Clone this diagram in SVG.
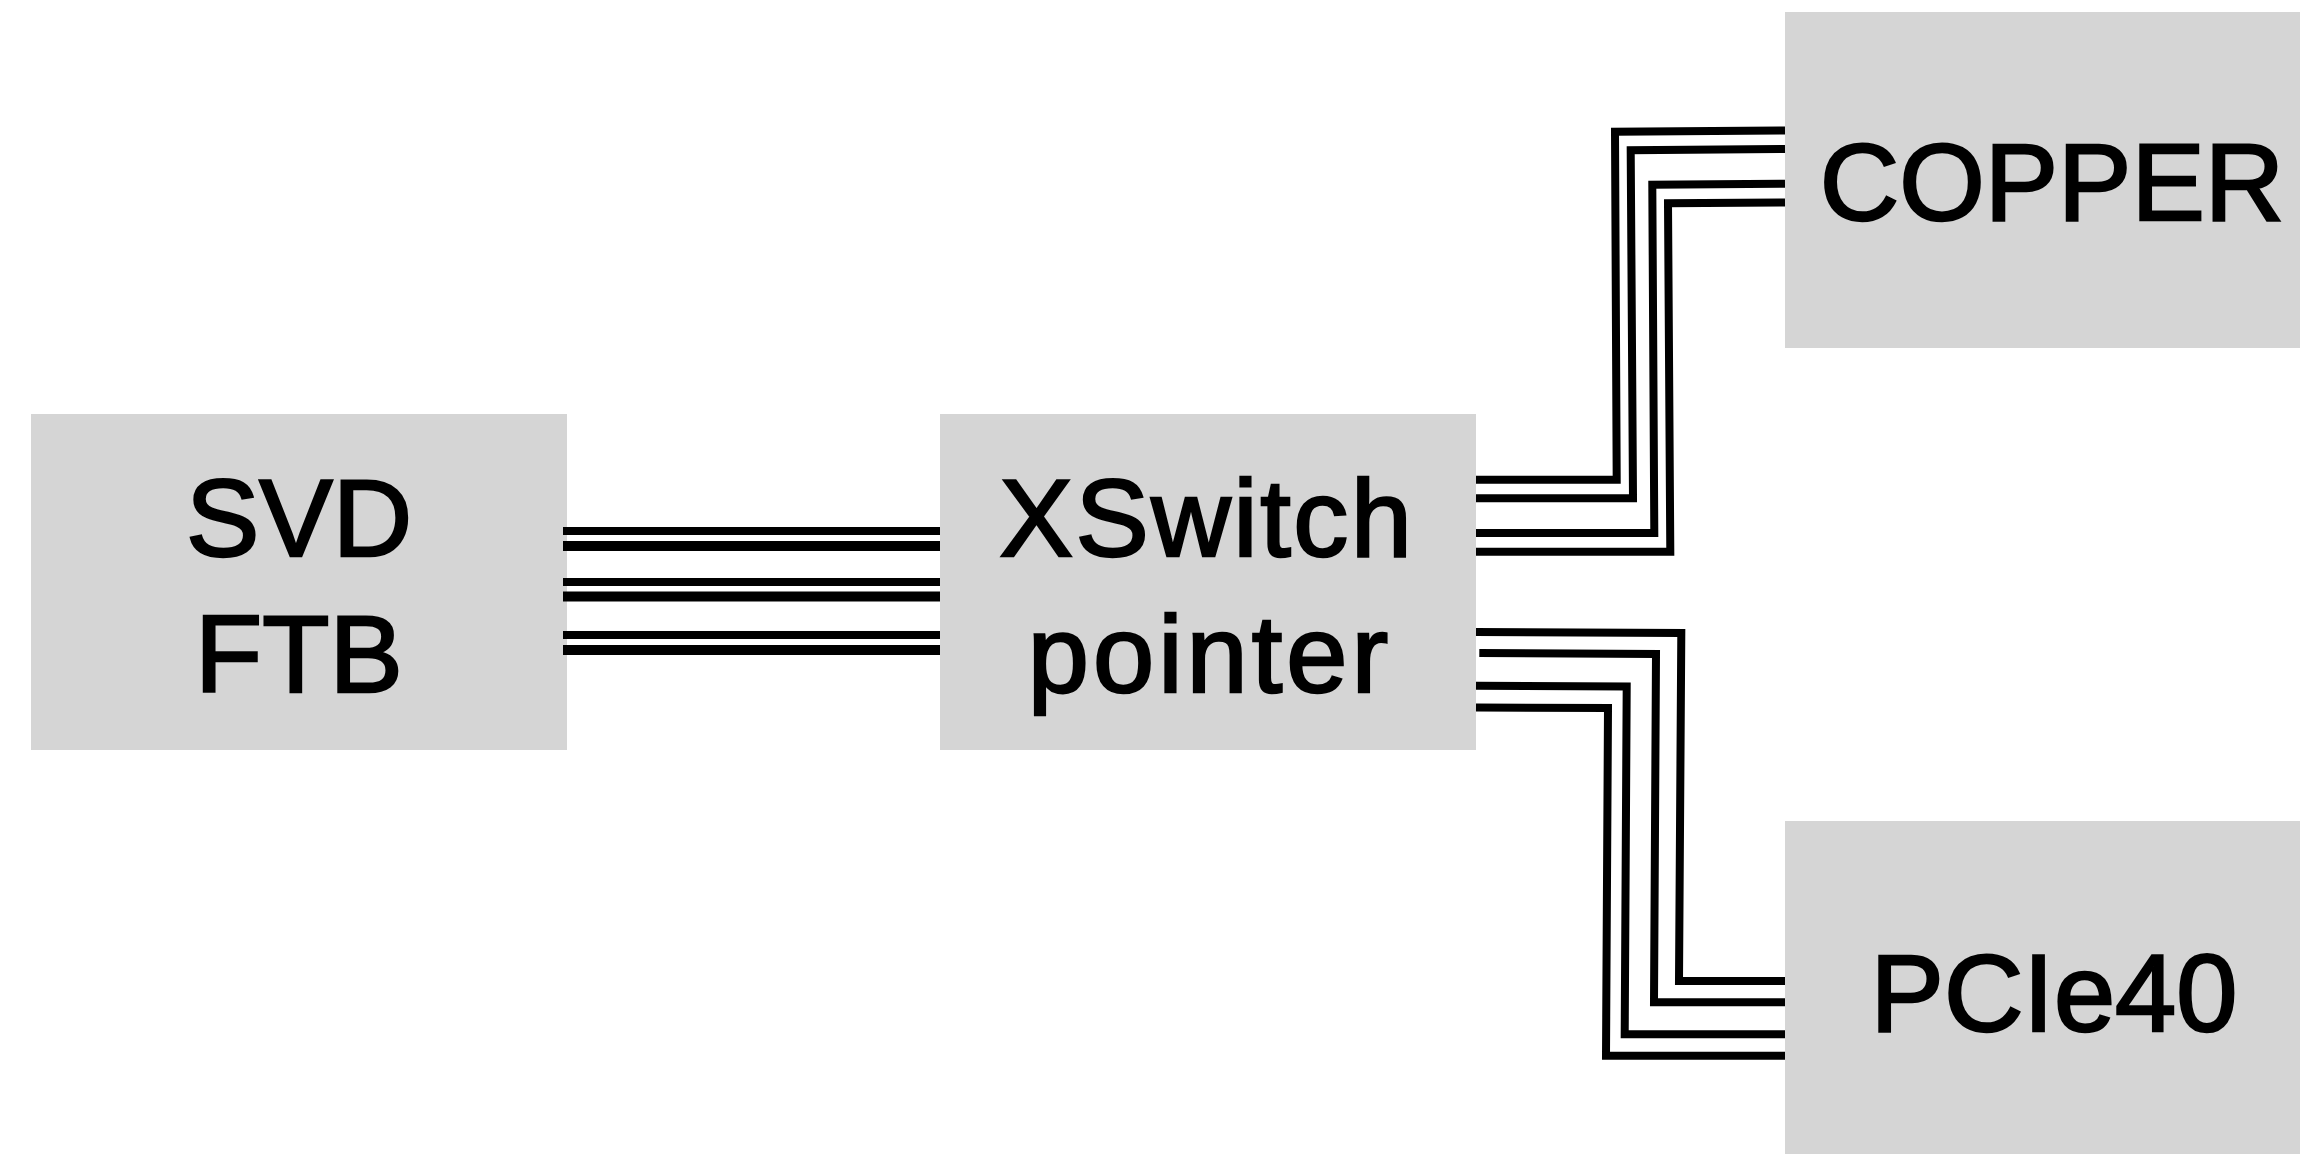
<svg xmlns="http://www.w3.org/2000/svg" width="2300" height="1154" viewBox="0 0 2300 1154">
<style>
.box{fill:#d5d5d5}
.lbl{font-family:"Liberation Sans",Arial,Helvetica,sans-serif;font-size:110px;fill:#000;stroke:#000;stroke-width:2.5;text-anchor:middle}
.w{fill:none;stroke:#000;stroke-width:8;stroke-linejoin:miter}
.wt{fill:none;stroke:#000;stroke-width:10}
</style>
<rect width="2300" height="1154" fill="#fff"/>
<g id="node-svd-ftb">
<rect class="box" x="31" y="414" width="536" height="336"/>
<text class="lbl" x="299" y="556">SVD</text>
<text class="lbl" x="299" y="692">FTB</text>
</g>
<g id="node-xswitch">
<rect class="box" x="940" y="414" width="536" height="336"/>
<text class="lbl" x="1207" y="556" letter-spacing="2.5">XSwitch</text>
<text class="lbl" x="1210" y="692" letter-spacing="4">pointer</text>
</g>
<g id="node-copper">
<rect class="box" x="1785" y="12" width="535" height="336"/>
<text class="lbl" x="2052" y="220">COPPER</text>
</g>
<g id="node-pcie40">
<rect class="box" x="1785" y="821" width="535" height="336"/>
<text class="lbl" x="2054" y="1031">PCIe40</text>
</g>
<g id="connectors">
<line class="w" x1="563" y1="531" x2="940" y2="531"/>
<line class="wt" x1="563" y1="546" x2="940" y2="546"/>
<line class="w" x1="563" y1="582" x2="940" y2="582"/>
<line class="wt" x1="563" y1="596.5" x2="940" y2="596.5"/>
<line class="w" x1="563" y1="635" x2="940" y2="635"/>
<line class="wt" x1="563" y1="650" x2="940" y2="650"/>
<path class="w" d="M1476 479.7 L1616.7 479.7 L1615 131.7 L1785 130.5"/>
<path class="w" d="M1476 498.3 L1633 498.3 L1630.7 150.3 L1785 149"/>
<path class="w" d="M1476 533 L1654.3 533 L1652.3 184.8 L1785 183.8"/>
<path class="w" d="M1476 551.7 L1670.3 551.7 L1668 203.3 L1785 202.5"/>
<path class="w" d="M1476 632 L1681.3 633 L1679 981 L1785 981"/>
<path class="w" d="M1479.3 653 L1656 654 L1654 1002.3 L1785 1002.3"/>
<path class="w" d="M1476 685.7 L1626.7 686.5 L1624.7 1034.3 L1785 1034.3"/>
<path class="w" d="M1476 707.5 L1608 708 L1606 1055.7 L1785 1055.7"/>
</g>
</svg>
